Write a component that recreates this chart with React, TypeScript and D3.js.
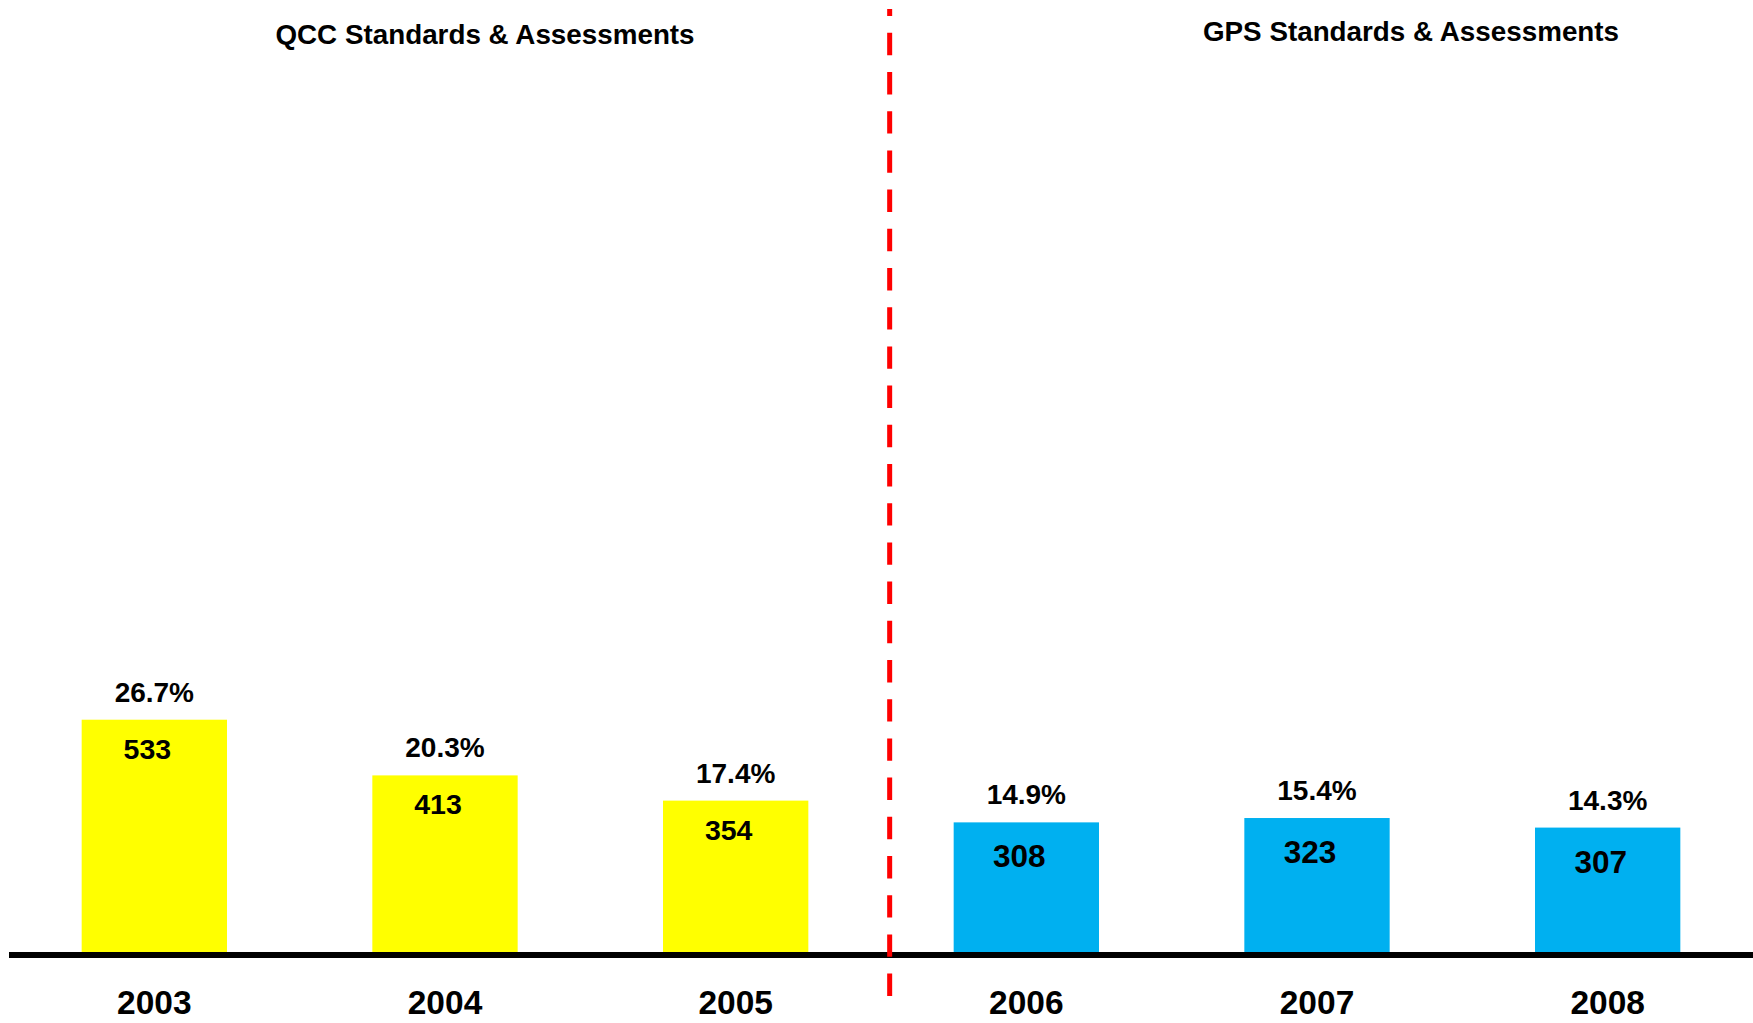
import React, { useRef, useEffect } from 'react'
import * as d3 from 'd3'

const years = ['2003', '2004', '2005', '2006', '2007', '2008']
const counts = [533, 413, 354, 308, 323, 307]
const percents = [26.7, 20.3, 17.4, 14.9, 15.4, 14.3]
// which standards era each year belongs to
const eras = ['QCC', 'QCC', 'QCC', 'GPS', 'GPS', 'GPS']
const eraTitles = ['QCC Standards & Assessments', 'GPS Standards & Assessments']

const eraColors: Record<string, string> = { QCC: '#FFFF00', GPS: '#00B0F0' }

export default function App() {
  const svgRef = useRef<SVGSVGElement>(null)

  useEffect(() => {
    const width = 1753
    const height = 1023
    const baseline = 952
    const font = '"Liberation Sans", Arial, sans-serif'

    const svg = d3.select(svgRef.current)
    svg.selectAll('*').remove()
    svg.attr('width', width).attr('height', height)

    const rows = years.map((year, i) => ({
      year, count: counts[i], pct: percents[i], era: eras[i]
    }))

    const x = d3.scaleBand<string>()
      .domain(years)
      .range([9, width])
      .paddingInner(0.5)
      .paddingOuter(0.25)

    // bar heights follow the percentage
    const y = d3.scaleLinear()
      .domain([0, 100])
      .range([baseline, 82])

    svg.selectAll('.bar')
      .data(rows)
      .join('rect')
      .attr('class', 'bar')
      .attr('x', d => x(d.year)!)
      .attr('y', d => y(d.pct))
      .attr('width', x.bandwidth())
      .attr('height', d => baseline - y(d.pct))
      .attr('fill', d => eraColors[d.era])

    // percent labels above bars
    svg.selectAll('.pct')
      .data(rows)
      .join('text')
      .attr('class', 'pct')
      .attr('x', d => x(d.year)! + x.bandwidth() / 2)
      .attr('y', d => y(d.pct) - 18)
      .attr('text-anchor', 'middle')
      .attr('font-family', font)
      .attr('font-weight', 'bold')
      .attr('font-size', 28)
      .attr('fill', '#000')
      .text(d => d.pct.toFixed(1) + '%')

    // counts inside bars
    svg.selectAll('.count')
      .data(rows)
      .join('text')
      .attr('class', 'count')
      .attr('x', d => x(d.year)! + x.bandwidth() / 2 - 7)
      .attr('y', d => y(d.pct) + (d.era === 'QCC' ? 39 : 45))
      .attr('text-anchor', 'middle')
      .attr('font-family', font)
      .attr('font-weight', 'bold')
      .attr('font-size', d => (d.era === 'QCC' ? 28.5 : 31.5))
      .attr('fill', '#000')
      .text(d => d.count)

    // axis line
    svg.append('line')
      .attr('x1', 9).attr('x2', width)
      .attr('y1', baseline + 3).attr('y2', baseline + 3)
      .attr('stroke', '#000')
      .attr('stroke-width', 6)

    // year labels
    svg.selectAll('.year')
      .data(rows)
      .join('text')
      .attr('class', 'year')
      .attr('x', d => x(d.year)! + x.bandwidth() / 2)
      .attr('y', 1014)
      .attr('text-anchor', 'middle')
      .attr('font-family', font)
      .attr('font-weight', 'bold')
      .attr('font-size', 33.5)
      .attr('fill', '#000')
      .text(d => d.year)

    // divider between QCC and GPS eras
    const divX = x('2006')! - 64
    svg.append('line')
      .attr('x1', divX).attr('x2', divX)
      .attr('y1', 9).attr('y2', 996)
      .attr('stroke', '#FF0000')
      .attr('stroke-width', 5)
      .attr('stroke-dasharray', '22.4 16.8')
      .attr('stroke-dashoffset', 15.4)

    const titlePos = [{ x: 485, y: 44 }, { x: 1411, y: 41 }]
    eraTitles.forEach((t, i) => {
      svg.append('text')
        .attr('x', titlePos[i].x)
        .attr('y', titlePos[i].y)
        .attr('text-anchor', 'middle')
        .attr('font-family', font)
        .attr('font-weight', 'bold')
        .attr('font-size', 27.8)
        .attr('fill', '#000')
        .text(t)
    })
  }, [])

  return (
    <div style={{ position: 'absolute', left: 0, top: 0, background: '#fff' }}>
      <svg ref={svgRef} style={{ display: 'block' }} role="img" aria-label="Bar chart of counts and percentages by year, QCC vs GPS standards" />
    </div>
  )
}
